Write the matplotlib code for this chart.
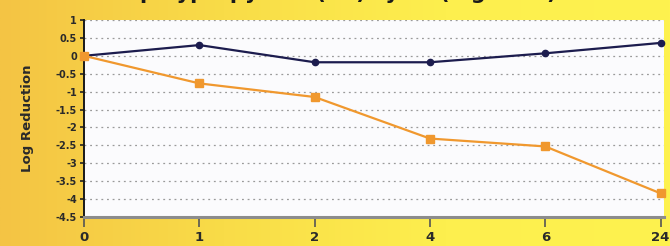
import numpy as np
import matplotlib
matplotlib.use('Agg')
import matplotlib.pyplot as plt
from matplotlib.colors import LinearSegmentedColormap

# data
hours = ['0', '1', '2', '4', '6', '24']
series_a = [0.0, 0.30, -0.18, -0.18, 0.07, 0.36]
series_b = [0.0, -0.77, -1.15, -2.31, -2.53, -3.84]
yticks = [1, 0.5, 0, -0.5, -1, -1.5, -2, -2.5, -3, -3.5, -4, -4.5]
title = 'polypropylene (PP) cycle (Figure 6)'

fig = plt.figure(figsize=(6.7, 2.46), dpi=100)

# yellow background gradient
bg = fig.add_axes([0, 0, 1, 1], zorder=-10)
cmap = LinearSegmentedColormap.from_list('bg', ['#f4c444', '#f9dc48', '#fdef4e', '#fef24f'])
grad = np.linspace(0, 1, 256).reshape(1, -1)
bg.imshow(grad, aspect='auto', cmap=cmap, extent=[0, 1, 0, 1])
bg.axis('off')

# title is cut off by the top edge in the reference, only descenders show
fig.text(0.52, 1.003, title, ha='center', va='baseline', fontsize=15,
         fontweight='bold', color='#1a1a1a')

ax = fig.add_axes([0.1254, 0.1179, 0.8657, 0.8008])
ax.set_facecolor('#fbfbfd')
x = np.arange(len(hours))
ax.plot(x, series_a, color='#1c1c4e', lw=1.6, marker='o', ms=4.5, zorder=3, clip_on=False)
ax.plot(x, series_b, color='#f0982e', lw=1.6, marker='s', ms=6, zorder=3, clip_on=False)

ax.set_xlim(0, 5.03)
ax.set_ylim(-4.5, 1)
ax.set_yticks(yticks)
ax.set_yticklabels(['%g' % v for v in yticks], fontsize=7, fontweight='bold', color='#2a2a2a')
ax.set_xticks(x)
ax.set_xticklabels(hours, fontsize=9.5, fontweight='bold', color='#2a2a2a')
ax.tick_params(axis='x', length=7, width=1.2, color='#555555', pad=3)
ax.tick_params(axis='y', length=3, width=1.2, color='#222222', pad=2)
ax.yaxis.grid(True, ls=(0, (1.5, 3)), color='#9a9a9a', lw=0.9)
for s in ['top', 'right']:
    ax.spines[s].set_visible(False)
ax.spines['left'].set_color('#1a1a1a')
ax.spines['left'].set_linewidth(1.4)
ax.spines['bottom'].set_color('#8c8c8c')
ax.spines['bottom'].set_linewidth(2.2)
ax.set_ylabel('Log Reduction', fontsize=9.5, fontweight='bold', color='#2a2a2a', labelpad=16)

plt.savefig('out.png', dpi=100)
